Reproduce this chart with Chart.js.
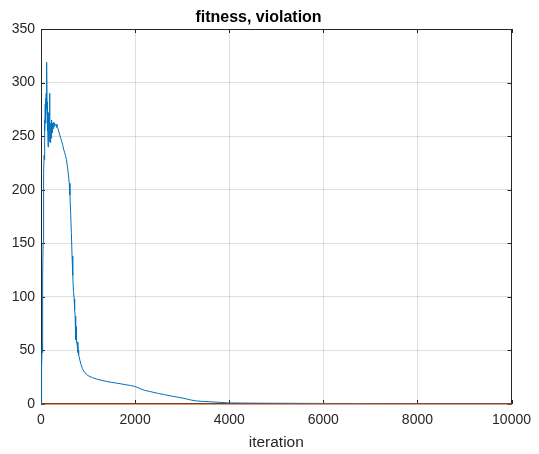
<!DOCTYPE html>
<html>
<head>
<meta charset="utf-8">
<script src="https://cdn.jsdelivr.net/npm/chart.js@4.4.1/dist/chart.umd.min.js"></script>
<style>
  html, body { margin: 0; padding: 0; background: #ffffff; }
  #wrap { width: 539px; height: 454px; }
</style>
</head>
<body>
<div id="wrap"><canvas id="chart" width="539" height="454"></canvas></div>
<script>
// Iteration numbers and the fitness recorded at each of them
const iterations = [
  0, 5, 10, 15, 20, 25, 30, 35, 40, 45, 50, 55, 60, 65, 70, 75, 80, 85, 90, 95,
  100, 105, 110, 115, 120, 124, 128, 132, 136, 140, 145, 150, 155, 160, 165, 170, 175, 180, 185, 190,
  195, 200, 205, 210, 215, 220, 225, 230, 235, 240, 245, 250, 260, 270, 280, 290, 300, 320, 340, 360,
  380, 400, 420, 440, 460, 480, 500, 520, 540, 560, 580, 600, 615, 630, 645, 660, 675, 690, 705, 715,
  725, 735, 740, 745, 750, 760, 770, 780, 785, 790, 800, 820, 850, 880, 920, 960, 1000, 1100, 1200, 1300,
  1400, 1500, 1600, 1700, 1800, 1900, 2000, 2100, 2200, 2300, 2400, 2500, 2600, 2700, 2800, 2900, 3000, 3100, 3200, 3300,
  3400, 3600, 3800, 4000, 4500, 5000, 5500, 6000, 6500, 7000, 7500, 8000, 8500, 10000
];
const fitness = [
  0, 8, 22, 45, 38, 55, 48, 80, 120, 150, 190, 175, 215, 232, 228, 250, 265, 255, 280, 262,
  285, 270, 290, 275, 300, 319, 282, 270, 278, 255, 268, 240, 262, 250, 272, 258, 245, 265, 290, 262,
  250, 258, 244, 262, 252, 258, 248, 265, 256, 260, 253, 262, 257, 263, 259, 262, 260, 261, 258, 257,
  254, 251, 248, 245, 242, 238, 235, 232, 228, 222, 215, 206, 195, 178, 160, 138, 120, 105, 98, 88,
  82, 70, 60, 72, 66, 58, 55, 48, 58, 50, 46, 42, 37, 33, 30, 28, 26.5, 24.5, 23, 22,
  21, 20.2, 19.5, 18.8, 18, 17.3, 16.3, 14.5, 12.8, 11.8, 10.8, 9.8, 9, 8, 7.2, 6.4, 5.6, 4.6, 3.6, 2.9,
  2.5, 2.1, 1.5, 1.0, 0.8, 0.7, 0.6, 0.5, 0.5, 0.4, 0.2, 0.1, 0, 0
];
// Constraint violation stays at zero for the whole run
const violationIterations = [0, 10000];
const violation = [0, 0];

// Axis ticks
const xTicks = [0, 2000, 4000, 6000, 8000, 10000];
const yTicks = [0, 50, 100, 150, 200, 250, 300, 350];

const AXIS_COLOR = '#262626';
const GRID_COLOR = 'rgba(38,38,38,0.15)';
const FONT = "'Liberation Sans', Arial, Helvetica, sans-serif";

const toPoints = (xs, ys) => xs.map((x, i) => ({ x: x, y: ys[i] }));

// Box around the plot area with short inward tick marks on all four sides
const axesBox = {
  id: 'axesBox',
  beforeDatasetsDraw(chart) {
    const { ctx, chartArea: a, scales } = chart;
    const len = 4;
    ctx.save();
    ctx.strokeStyle = AXIS_COLOR;
    ctx.lineWidth = 1;
    ctx.beginPath();
    scales.x.ticks.forEach(t => {
      const px = Math.round(scales.x.getPixelForValue(t.value)) + 0.5;
      ctx.moveTo(px, a.bottom); ctx.lineTo(px, a.bottom - len);
      ctx.moveTo(px, a.top); ctx.lineTo(px, a.top + len);
    });
    scales.y.ticks.forEach(t => {
      const py = Math.round(scales.y.getPixelForValue(t.value)) + 0.5;
      ctx.moveTo(a.left, py); ctx.lineTo(a.left + len, py);
      ctx.moveTo(a.right, py); ctx.lineTo(a.right - len, py);
    });
    ctx.stroke();
    ctx.strokeRect(Math.round(a.left) + 0.5, Math.round(a.top) + 0.5,
                   Math.round(a.width) - 1, Math.round(a.height) - 1);
    ctx.restore();
  }
};

Chart.defaults.font.family = FONT;

new Chart(document.getElementById('chart'), {
  type: 'scatter',
  data: {
    datasets: [
      {
        label: 'fitness',
        data: toPoints(iterations, fitness),
        showLine: true,
        borderColor: '#0072BD',
        borderWidth: 1,
        pointRadius: 0,
        tension: 0,
        order: 1
      },
      {
        label: 'violation',
        data: toPoints(violationIterations, violation),
        showLine: true,
        borderColor: '#D95319',
        borderWidth: 1.2,
        pointRadius: 0,
        clip: 3,
        order: 0
      }
    ]
  },
  options: {
    responsive: false,
    animation: false,
    devicePixelRatio: 1,
    layout: { padding: { left: 0, right: 22, top: 0, bottom: 0 } },
    plugins: {
      legend: { display: false },
      tooltip: { enabled: false },
      title: {
        display: true,
        text: 'fitness, violation',
        color: '#000000',
        font: { size: 16, weight: 'bold', family: FONT },
        padding: { top: 8.4, bottom: 1.4 }
      }
    },
    scales: {
      x: {
        type: 'linear',
        min: xTicks[0],
        max: xTicks[xTicks.length - 1],
        afterBuildTicks: s => { s.ticks = xTicks.map(v => ({ value: v })); },
        afterFit: s => { s.height = 50; },
        ticks: { color: AXIS_COLOR, font: { size: 14 }, padding: 8, maxRotation: 0,
                 callback: v => String(v) },
        grid: { color: GRID_COLOR, drawTicks: false },
        border: { display: false },
        title: {
          display: true,
          text: 'iteration',
          color: AXIS_COLOR,
          font: { size: 15.5 },
          padding: { top: 0, bottom: 2 }
        }
      },
      y: {
        type: 'linear',
        min: yTicks[0],
        max: yTicks[yTicks.length - 1],
        afterBuildTicks: s => { s.ticks = yTicks.map(v => ({ value: v })); },
        afterFit: s => { s.width = 41; },
        ticks: { color: AXIS_COLOR, font: { size: 14 }, padding: 6,
                 callback: v => String(v) },
        grid: { color: GRID_COLOR, drawTicks: false },
        border: { display: false }
      }
    }
  },
  plugins: [axesBox]
});
</script>
</body>
</html>
